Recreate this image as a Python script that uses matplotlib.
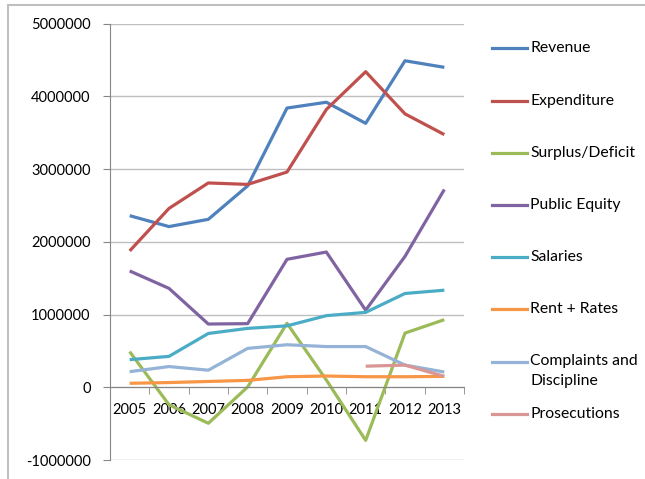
import matplotlib.pyplot as plt
import numpy as np
from matplotlib.lines import Line2D
from matplotlib.patches import Rectangle

plt.rcParams['font.family'] = ['Lato', 'DejaVu Sans']

years = ['2005', '2006', '2007', '2008', '2009', '2010', '2011', '2012', '2013']

revenue = [2360000, 2210000, 2310000, 2770000, 3840000, 3920000, 3630000, 4490000, 4400000]
expenditure = [1875000, 2460000, 2810000, 2790000, 2960000, 3820000, 4340000, 3760000, 3475000]
surplus = [490000, -240000, -495000, 5000, 880000, 100000, -730000, 745000, 930000]
public_equity = [1600000, 1360000, 870000, 875000, 1760000, 1860000, 1060000, 1800000, 2720000]
salaries = [380000, 425000, 740000, 810000, 845000, 985000, 1030000, 1290000, 1335000]
rent_rates = [55000, 65000, 80000, 95000, 145000, 155000, 145000, 145000, 150000]
complaints = [215000, 285000, 235000, 535000, 585000, 560000, 560000, 305000, 210000]
prosecutions = [np.nan, np.nan, np.nan, np.nan, np.nan, np.nan, 290000, 305000, 150000]

series = [revenue, expenditure, surplus, public_equity, salaries,
          rent_rates, complaints, prosecutions]
labels = ['Revenue', 'Expenditure', 'Surplus/Deficit', 'Public Equity', 'Salaries',
          'Rent + Rates', 'Complaints and\nDiscipline', 'Prosecutions']
colors = ['#4F81BD', '#C0504D', '#9BBB59', '#8064A2', '#4BACC6',
          '#F79646', '#95B3D7', '#D99694']

W, H = 645, 479
fig = plt.figure(figsize=(W / 100, H / 100), dpi=100)

# outer chart frame (only left/top edges visible)
fig.add_artist(Rectangle((8 / W, -0.5), 2, 1.5 - 5 / H, transform=fig.transFigure,
                         fill=False, edgecolor='#BFBFBF', linewidth=1.5))

ax = fig.add_axes([110 / W, 1 - 460 / H, 354 / W, (460 - 23.7) / H])
x = np.arange(len(years))
for s, c in zip(series, colors):
    ax.plot(x, s, color=c, linewidth=2.3, solid_capstyle='butt')

ax.set_xlim(-0.5, len(years) - 0.5)
ax.set_ylim(-1000000, 5000000)
ax.set_yticks(np.arange(-1000000, 5000001, 1000000))
ax.set_yticklabels([str(v) for v in range(-1000000, 5000001, 1000000)])
ax.grid(axis='y', color='#BFBFBF', linewidth=1)
ax.set_axisbelow(True)

ax.set_xticks(x)
ax.set_xticklabels(years)
ax.set_xticks(np.arange(-0.5, len(years), 1), minor=True)
ax.tick_params(axis='x', which='major', length=0, pad=11.5, labelsize=10.5)
ax.tick_params(axis='x', which='minor', length=5, color='#868686', direction='out')
ax.tick_params(axis='y', length=5, color='#868686', pad=9, labelsize=10.5)

for side in ['top', 'right']:
    ax.spines[side].set_visible(False)
ax.spines['bottom'].set_position(('data', 0))
ax.spines['bottom'].set_color('#868686')
ax.spines['left'].set_color('#868686')

# legend, Excel style: one entry every ~52 px on the right
y0, step = 48.3, 52.2
for i, (lab, c) in enumerate(zip(labels, colors)):
    yy = y0 + i * step
    fig.add_artist(Line2D([491.7 / W, 526.7 / W], [1 - yy / H, 1 - yy / H],
                          color=c, linewidth=2.3, transform=fig.transFigure))
    for j, part in enumerate(lab.split('\n')):
        fig.text(530 / W, 1 - (yy + j * 20) / H, part, fontsize=11.3,
                 va='center', ha='left')

fig.savefig('out.png', dpi=100)
